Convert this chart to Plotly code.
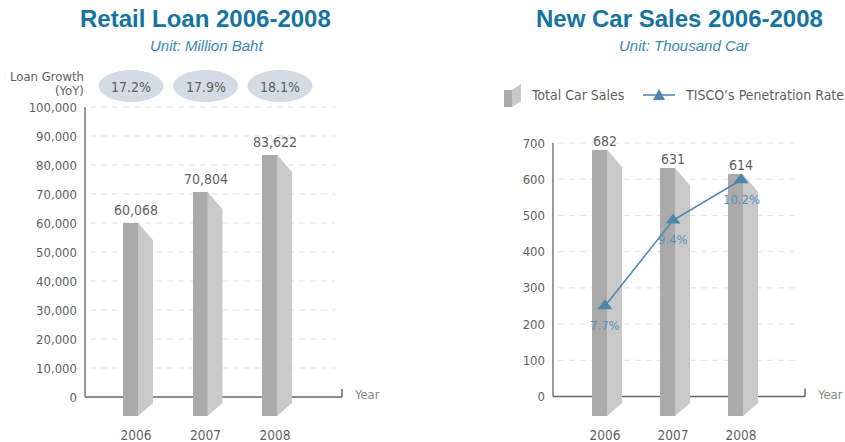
import plotly.graph_objects as go

# ---------------- data ----------------
years = ["2006", "2007", "2008"]
retail_loan = [60068, 70804, 83622]
loan_growth = [17.2, 17.9, 18.1]
car_sales = [682, 631, 614]
penetration = [7.7, 9.4, 10.2]
loan_ticks = list(range(0, 100001, 10000))
car_ticks = list(range(0, 701, 100))

# ---------------- style ----------------
W, H = 845, 442
FONT = "Liberation Sans Narrow, DejaVu Sans Condensed, Arial Narrow, sans-serif"
TFONT = "Liberation Sans, Arial, sans-serif"
TXT = "#5f5f5f"
FRONT = "#aaaaaa"
SIDE = "#c9c9c9"
AXIS = "#7a7a7a"
GRID = "#e3e3e3"
TITLE = "#1674a0"
SUB = "#3a88b5"
LINEC = "#4d86ad"
PENTXT = "#5a90b8"
ELL = "#d3dbe4"

TOP, BOT, BAR_BOT = 100, 420, 416
L = dict(x0=85, x1=345, c0=136, step=69.5, zero=397, ppu=0.0029)
R = dict(x0=553, x1=808, c0=605, step=68, zero=396.5, ppu=253.5 / 700)


def px(p):
    return p / W


def py(p):
    return 1 - p / H


def xrange_(P):
    return [(P["x0"] - P["c0"]) / P["step"], (P["x1"] - P["c0"]) / P["step"]]


def yrange_(P):
    return [-(BOT - P["zero"]) / P["ppu"], (P["zero"] - TOP) / P["ppu"]]


fig = go.Figure()


def bars3d(vals, P, xa, ya):
    xs = list(range(len(vals)))
    bottom = -(BAR_BOT - P["zero"]) / P["ppu"]
    fig.add_trace(go.Bar(
        x=xs, y=[v - bottom for v in vals], base=bottom,
        width=15 / P["step"], offset=-13 / P["step"],
        marker=dict(color=FRONT, line=dict(width=0)),
        xaxis=xa, yaxis=ya, showlegend=False, hoverinfo="skip"))
    sx, sy = [], []
    drop = 17.5 / P["ppu"]
    rise = 13 / P["ppu"]
    for i, v in enumerate(vals):
        a = i + 2 / P["step"]
        b = i + 17 / P["step"]
        sx += [a, b, b, a, a, None]
        sy += [v, v - drop, bottom + rise, bottom, v, None]
    fig.add_trace(go.Scatter(
        x=sx, y=sy, mode="lines", fill="toself", fillcolor=SIDE,
        line=dict(width=0, color=SIDE), xaxis=xa, yaxis=ya,
        showlegend=False, hoverinfo="skip"))


bars3d(retail_loan, L, "x", "y")
bars3d(car_sales, R, "x2", "y2")

fig.add_trace(go.Scatter(
    x=list(range(len(penetration))), y=penetration, mode="lines+markers",
    line=dict(color=LINEC, width=1.5),
    marker=dict(symbol="triangle-up", size=13, color=LINEC),
    xaxis="x2", yaxis="y3", showlegend=False, hoverinfo="skip"))

ann = []
shapes = []


def note(x, y, text, size, color, xanchor="center", yanchor="middle", xref="paper", yref="paper",
         family=FONT, yshift=0):
    ann.append(dict(x=x, y=y, xref=xref, yref=yref, text=text, showarrow=False,
                    xanchor=xanchor, yanchor=yanchor, yshift=yshift,
                    font=dict(family=family, size=size, color=color)))


# data labels
for i, v in enumerate(retail_loan):
    note(i, v, f"{v:,}", 14, TXT, yanchor="bottom", xref="x", yref="y", yshift=3)
for i, v in enumerate(car_sales):
    note(i, v, f"{v}", 14, TXT, yanchor="bottom", xref="x2", yref="y2", yshift=-1)
for i, v in enumerate(penetration):
    note(i, v, f"{v}%", 13, PENTXT, xref="x2", yref="y3", yshift=-19)

# loan growth ellipses
half = 32.5 / L["step"]
for i, g in enumerate(loan_growth):
    cx = i + (i - 1) * 0.072
    shapes.append(dict(type="circle", xref="x", yref="paper", x0=cx - half, x1=cx + half,
                       y0=py(102), y1=py(70), fillcolor=ELL, line=dict(width=0), layer="above"))
    note(cx, py(87), f"{g}%", 14, TXT, xref="x")
note(px(86), py(76), "Loan Growth", 13, TXT, xanchor="right")
note(px(86), py(91), "(YoY)", 13, TXT, xanchor="right")

# titles
for cx, t in [(205, "Retail Loan 2006-2008"), (679, "New Car Sales 2006-2008")]:
    note(px(cx), py(19), f"<b>{t}</b>", 24, TITLE, family=TFONT)
for cx, t in [(206, "Unit: Million Baht"), (684, "Unit: Thousand Car")]:
    note(px(cx), py(46), f"<i>{t}</i>", 15, SUB, family=TFONT)

# grid lines and axis lines
for xa, ya, P, ticks in [("x", "y", L, loan_ticks), ("x2", "y2", R, car_ticks)]:
    gs = 5 / (P["x1"] - P["x0"])
    for t in ticks[1:]:
        shapes.append(dict(type="line", xref=f"{xa} domain", yref=ya, x0=gs, x1=1 - 2 * gs, y0=t, y1=t,
                           line=dict(color=GRID, width=1, dash="6px,5px"), layer="below"))
    end = (P["x1"] - 3 - P["x0"]) / (P["x1"] - P["x0"])
    shapes.append(dict(type="line", xref=f"{xa} domain", yref=ya, x0=0, x1=0, y0=0, y1=ticks[-1],
                       line=dict(color=AXIS, width=1.5), layer="below"))
    shapes.append(dict(type="line", xref=f"{xa} domain", yref=ya, x0=0, x1=end, y0=0, y1=0,
                       line=dict(color="#666666", width=1.5), layer="below"))
    shapes.append(dict(type="line", xref=f"{xa} domain", yref=ya, x0=end, x1=end,
                       ysizemode="pixel", yanchor=0, y0=0, y1=8,
                       line=dict(color="#666666", width=1.5), layer="below"))
for x in (352, 815):
    note(px(x), py(394), "Year", 13, "#8a8a8a", xanchor="left")

# legend (right chart)
shapes.append(dict(type="rect", xref="paper", yref="paper", x0=px(504), x1=px(512),
                   y0=py(107), y1=py(90), fillcolor=FRONT, line=dict(width=0)))
shapes.append(dict(type="path", xref="paper", yref="paper",
                   path=f"M {px(512)},{py(90)} L {px(521)},{py(84)} L {px(521)},{py(101)} L {px(512)},{py(107)} Z",
                   fillcolor=SIDE, line=dict(width=0)))
note(px(529), py(95), "Total Car Sales", 14, TXT, xanchor="left")
shapes.append(dict(type="line", xref="paper", yref="paper", x0=px(643), x1=px(675),
                   y0=py(95), y1=py(95), line=dict(color=LINEC, width=1.5)))
shapes.append(dict(type="path", xref="paper", yref="paper",
                   path=f"M {px(653)},{py(100)} L {px(665)},{py(100)} L {px(659)},{py(89)} Z",
                   fillcolor=LINEC, line=dict(width=0)))
note(px(683), py(95), "TISCO’s Penetration Rate", 14, TXT, xanchor="left")

ydom = [py(BOT), py(TOP)]
common_y = dict(showline=False, zeroline=False, showgrid=False, ticks="", ticklabelstandoff=7,
                tickfont=dict(family=FONT, size=13, color=TXT))
common_x = dict(showline=False, zeroline=False, showgrid=False, ticks="", ticklabelstandoff=5,
                tickfont=dict(family=FONT, size=13.5, color=TXT),
                tickvals=list(range(len(years))), ticktext=years)

fig.update_layout(
    width=W, height=H, margin=dict(l=0, r=0, t=0, b=0),
    paper_bgcolor="white", plot_bgcolor="white", showlegend=False, bargap=0,
    hovermode=False,
    xaxis=dict(domain=[px(L["x0"]), px(L["x1"])], range=xrange_(L), anchor="y", **common_x),
    yaxis=dict(domain=ydom, range=yrange_(L), anchor="x", tickvals=loan_ticks,
               ticktext=[f"{t:,}" for t in loan_ticks], **common_y),
    xaxis2=dict(domain=[px(R["x0"]), px(R["x1"])], range=xrange_(R), anchor="y2", **common_x),
    yaxis2=dict(domain=ydom, range=yrange_(R), anchor="x2", tickvals=car_ticks,
                ticktext=[str(t) for t in car_ticks], **common_y),
    yaxis3=dict(overlaying="y2", anchor="x2", range=[7.7 - (BOT - 306) / 50.4, 7.7 + (306 - TOP) / 50.4],
                visible=False),
    annotations=ann, shapes=shapes,
)

fig.write_html("out.html", config={"displayModeBar": False},
               post_script="document.body.style.margin='0';")
